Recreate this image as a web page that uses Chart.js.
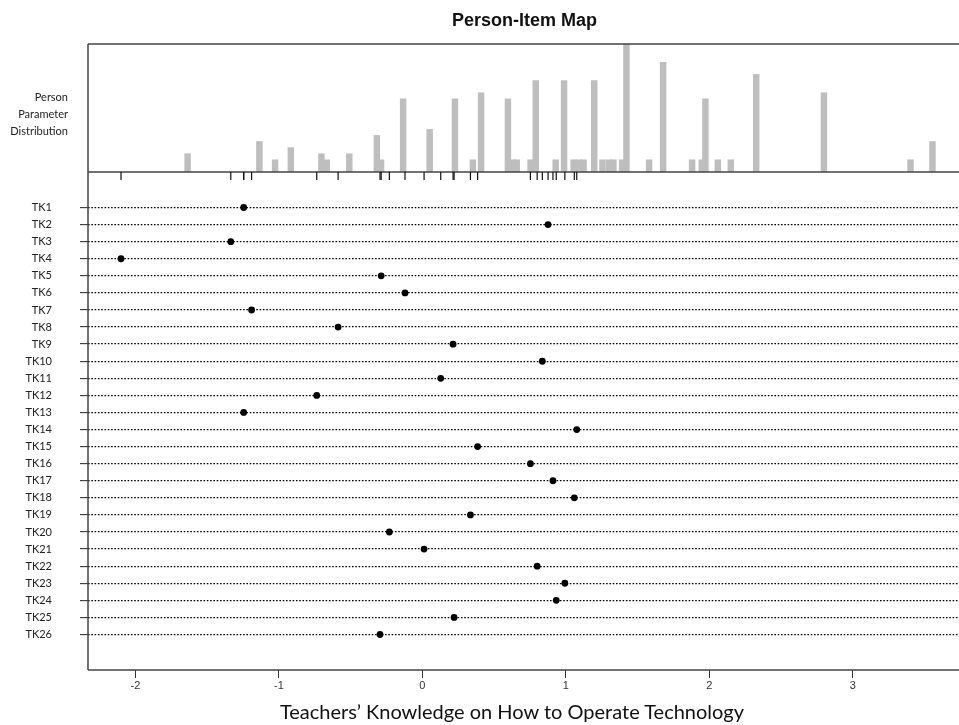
<!DOCTYPE html>
<html>
<head>
<meta charset="utf-8">
<title>Person-Item Map</title>
<script src="https://cdn.jsdelivr.net/npm/chart.js@4.4.1/dist/chart.umd.min.js"></script>
<style>
  html, body { margin: 0; padding: 0; background: #fff; overflow: hidden; }
  #wrap { position: relative; width: 959px; height: 725px; overflow: hidden; background: #fff; }
  canvas { position: absolute; left: 0; top: 0; }
  .txt { position: absolute; white-space: nowrap; }
  #title { left: 0; width: 1049px; top: 10px; text-align: center; font: bold 18px "Liberation Sans", Arial, sans-serif; line-height: 20px; color: #111; }
  #ppd { left: 0; width: 68px; top: 88px; text-align: right; font: 11px Lato, sans-serif; line-height: 17px; color: #222; }
  #xtitle { left: 0; width: 1024px; top: 699px; text-align: center; font: 20px Lato, sans-serif; line-height: 24px; color: #111; }
</style>
</head>
<body>
<div id="wrap">
  <canvas id="histChart" width="970" height="725"></canvas>
  <canvas id="itemChart" width="970" height="725"></canvas>
  <div class="txt" id="title">Person-Item Map</div>
  <div class="txt" id="ppd">Person<br>Parameter<br>Distribution</div>
  <div class="txt" id="xtitle">Teachers’ Knowledge on How to Operate Technology</div>
</div>
<script>
// items and their locations (logits)
const itemLabels = ['TK1','TK2','TK3','TK4','TK5','TK6','TK7','TK8','TK9','TK10','TK11','TK12','TK13',
  'TK14','TK15','TK16','TK17','TK18','TK19','TK20','TK21','TK22','TK23','TK24','TK25','TK26'];
const itemLocations = [-1.245, 0.876, -1.335, -2.10, -0.287, -0.121, -1.19, -0.587, 0.214, 0.836, 0.128, -0.736, -1.245,
  1.076, 0.385, 0.753, 0.910, 1.059, 0.335, -0.230, 0.012, 0.800, 0.993, 0.933, 0.221, -0.295];

// person parameter distribution (location, count)
const personValues = [-1.64, -1.143, -1.034, -0.925, -0.713, -0.676, -0.52, -0.329, -0.30, -0.147, 0.037, 0.212,
  0.336, 0.393, 0.579, 0.61, 0.64, 0.736, 0.772, 0.91, 0.968, 1.034, 1.069, 1.103, 1.177, 1.234, 1.28, 1.31,
  1.37, 1.40, 1.557, 1.654, 1.855, 1.922, 1.947, 2.033, 2.123, 2.299, 2.768, 3.368, 3.52];
const personCounts = [3, 5, 2, 4, 3, 2, 3, 6, 2, 12, 7, 12,
  2, 13, 12, 2, 2, 2, 15, 2, 15, 2, 2, 2, 15, 2, 2, 2,
  2, 21, 2, 18, 2, 2, 12, 2, 2, 16, 13, 2, 5];

const xTicks = [-2, -1, 0, 1, 2, 3];
const xMin = -2.33, xMax = 3.78;
const rugY = -0.846;

Chart.defaults.font.family = 'Lato, sans-serif';

// box lines round the plot areas
const framePlugin = {
  id: 'frame',
  afterDraw(chart, args, opts) {
    const ctx = chart.ctx, a = chart.chartArea;
    ctx.save();
    ctx.strokeStyle = '#444';
    ctx.lineWidth = 1.5;
    ctx.beginPath();
    (opts.sides || []).forEach(function (s) {
      if (s === 'left') { ctx.moveTo(a.left, a.top); ctx.lineTo(a.left, a.bottom); }
      if (s === 'top') { ctx.moveTo(a.left, a.top); ctx.lineTo(a.right, a.top); }
      if (s === 'bottom') { ctx.moveTo(a.left, a.bottom); ctx.lineTo(a.right, a.bottom); }
    });
    ctx.stroke();
    ctx.restore();
  }
};

// top panel - histogram
new Chart(document.getElementById('histChart'), {
  type: 'bar',
  data: {
    datasets: [{
      data: personValues.map((v, i) => ({ x: v, y: personCounts[i] })),
      backgroundColor: '#bebebe',
      borderWidth: 0,
      barThickness: 5.8
    }]
  },
  options: {
    responsive: false,
    animation: false,
    layout: { padding: { left: 88, top: 44, right: 0, bottom: 553 } },
    scales: {
      x: { type: 'linear', display: false, min: xMin, max: xMax, offset: false },
      y: { display: false, min: 0, max: 21 }
    },
    plugins: {
      legend: { display: false },
      tooltip: { enabled: false },
      frame: { sides: ['top', 'left', 'bottom'] }
    }
  },
  plugins: [framePlugin]
});

// bottom panel - item map
new Chart(document.getElementById('itemChart'), {
  type: 'scatter',
  data: {
    datasets: [
      {
        data: itemLocations.map((v, i) => ({ x: v, y: i + 1 })),
        pointRadius: 3.4,
        backgroundColor: '#000',
        borderColor: '#000',
        borderWidth: 0
      },
      {
        // rug of item locations under the histogram
        data: itemLocations.map(v => ({ x: v, y: rugY })),
        pointStyle: 'line',
        rotation: 90,
        pointRadius: 4,
        borderColor: '#111',
        borderWidth: 1.2
      }
    ]
  },
  options: {
    responsive: false,
    animation: false,
    layout: { padding: { left: 0, top: 172, right: 0, bottom: 0 } },
    scales: {
      x: {
        type: 'linear',
        min: xMin,
        max: xMax,
        afterBuildTicks: s => { s.ticks = xTicks.map(v => ({ value: v })); },
        afterFit: s => { s.height = 55; },
        grid: { drawOnChartArea: false, drawTicks: true, tickLength: 8, tickColor: '#333', tickWidth: 1 },
        border: { display: false },
        ticks: { font: { family: '"Liberation Sans", Arial', size: 11 }, color: '#333', padding: 1, maxRotation: 0 }
      },
      y: {
        type: 'linear',
        reverse: true,
        min: -1.08,
        max: 28.08,
        afterBuildTicks: s => { s.ticks = itemLabels.map((l, i) => ({ value: i + 1 })); },
        afterFit: s => { s.width = 88; },
        grid: { color: '#000', lineWidth: 1.3, drawTicks: true, tickLength: 8, tickColor: '#222', tickWidth: 1 },
        border: { display: false, dash: [1.6, 1.7] },
        ticks: {
          callback: (v, i) => itemLabels[i],
          font: { family: 'Lato', size: 11 },
          color: '#222',
          padding: 28,
          autoSkip: false
        }
      }
    },
    plugins: {
      legend: { display: false },
      tooltip: { enabled: false },
      frame: { sides: ['left', 'bottom'] }
    }
  },
  plugins: [framePlugin]
});
</script>
</body>
</html>
